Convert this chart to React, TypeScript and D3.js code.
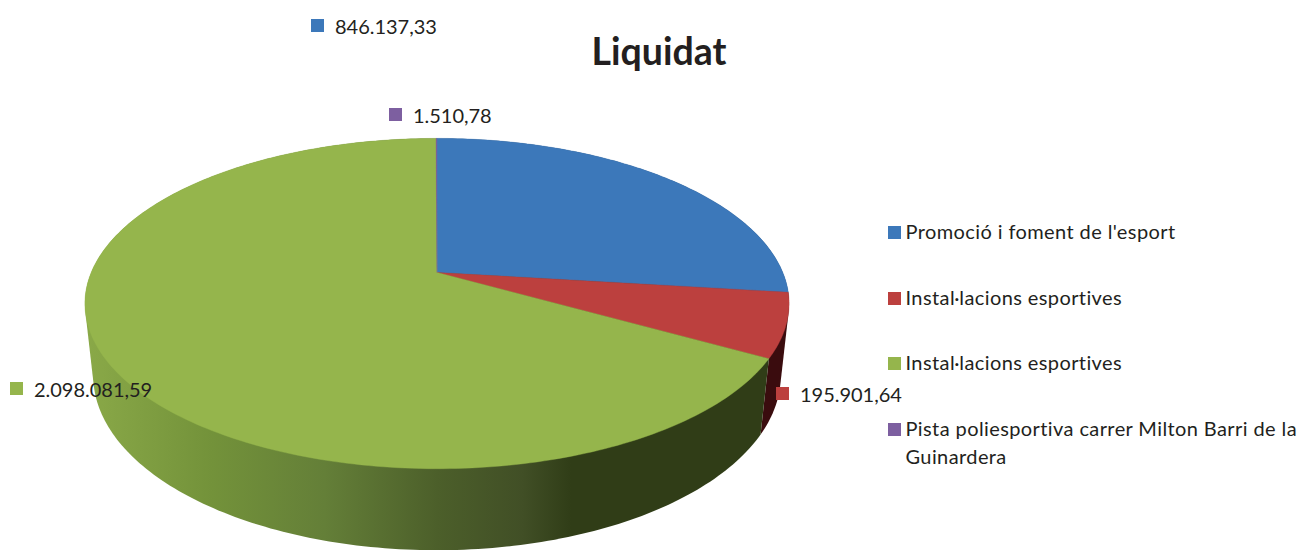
import React from "react";
import * as d3 from "d3";

const title = "Liquidat";
const categories = [
  "Promoció i foment de l'esport",
  "Instal·lacions esportives",
  "Instal·lacions esportives",
  "Pista poliesportiva carrer Milton Barri de la Guinardera",
];
const values = [846137.33, 195901.64, 2098081.59, 1510.78];
const valueLabels = ["846.137,33", "195.901,64", "2.098.081,59", "1.510,78"];

const colors = ["#3c78ba", "#bc403e", "#95b54c", "#7d5fa0"];
const wallColors = ["#24466e", "#3a0c0e", "url(#greenWall)", "#4a3860"];

// where the labels sit: marker left/top
const labelPos = [[311, 19], [776, 387], [10, 382], [389, 108]];
const legendTop = [226, 292, 357, 423];

const font = "Lato, Carlito, Calibri, sans-serif";
const textColor = "#231f20";

// perspective of the disc, fitted on the rim of the picture
const cx = 437;
const cy = 272.5;
const K = 345.8;
const tilt = 0.188;
const yPull = -108.1;
const depthY = 79;
const depthW = 0.0233;

function project(angle: number, lower: boolean): [number, number] {
  const u = Math.sin(angle);
  const v = Math.cos(angle);
  const w = 1 + tilt * v + (lower ? depthW : 0);
  return [cx + (K * u) / w, (cy + yPull * v + (lower ? depthY : 0)) / w];
}

function rim(a0: number, a1: number, lower: boolean) {
  const n = Math.max(2, Math.ceil(((a1 - a0) * 180) / Math.PI));
  return d3.range(n + 1).map((i) => project(a0 + ((a1 - a0) * i) / n, lower));
}

const lineGen = d3.line();

export default function App() {
  const arcs = d3.pie<number>().sort(null)(values);

  return (
    <svg width={1298} height={550} style={{ position: "absolute", left: 0, top: 0, display: "block" }} fontFamily={font}>
      <defs>
        <linearGradient id="greenWall" gradientUnits="userSpaceOnUse" x1={85} x2={790} y1={0} y2={0}>
          <stop offset="0" stopColor="#8aa948" />
          <stop offset="0.18" stopColor="#73923a" />
          <stop offset="0.34" stopColor="#647f38" />
          <stop offset="0.5" stopColor="#4c5f2a" />
          <stop offset="0.62" stopColor="#414f26" />
          <stop offset="0.69" stopColor="#303d17" />
          <stop offset="1" stopColor="#303d17" />
        </linearGradient>
      </defs>

      {/* hull of both rims, the part that would spill is covered by the top face */}
      {arcs.map((a, i) => {
        const hull = d3.polygonHull([...rim(a.startAngle, a.endAngle, false), ...rim(a.startAngle, a.endAngle, true)]);
        return <path key={"wall" + i} d={lineGen(hull as [number, number][]) + "Z"} fill={wallColors[i]} />;
      })}

      {arcs.map((a, i) => (
        <path
          key={"top" + i}
          d={lineGen([[cx, cy], ...rim(a.startAngle, a.endAngle, false)]) + "Z"}
          fill={colors[i]}
          stroke={colors[i]}
          strokeWidth={0.4}
        />
      ))}

      <text x={659} y={65} textAnchor="middle" fontSize={37.5} fontWeight={700} fill={textColor}>
        {title}
      </text>

      {valueLabels.map((t, i) => (
        <g key={"label" + i}>
          <rect x={labelPos[i][0]} y={labelPos[i][1]} width={13} height={13} fill={colors[i]} />
          <text x={labelPos[i][0] + 24} y={labelPos[i][1] + 14.5} fontSize={20} letterSpacing={-0.02} fill={textColor}>
            {t}
          </text>
        </g>
      ))}

      {categories.map((c, i) => {
        const lines = i === 3 ? [c.slice(0, c.lastIndexOf(" ")), c.slice(c.lastIndexOf(" ") + 1)] : [c];
        return (
          <g key={"legend" + i}>
            <rect x={888} y={legendTop[i]} width={13} height={13} fill={colors[i]} />
            {lines.map((l, j) => (
              <text key={j} x={905.5} y={legendTop[i] + 13 + j * 28} fontSize={20} letterSpacing={0.4} fill={textColor}>
                {l}
              </text>
            ))}
          </g>
        );
      })}
    </svg>
  );
}
